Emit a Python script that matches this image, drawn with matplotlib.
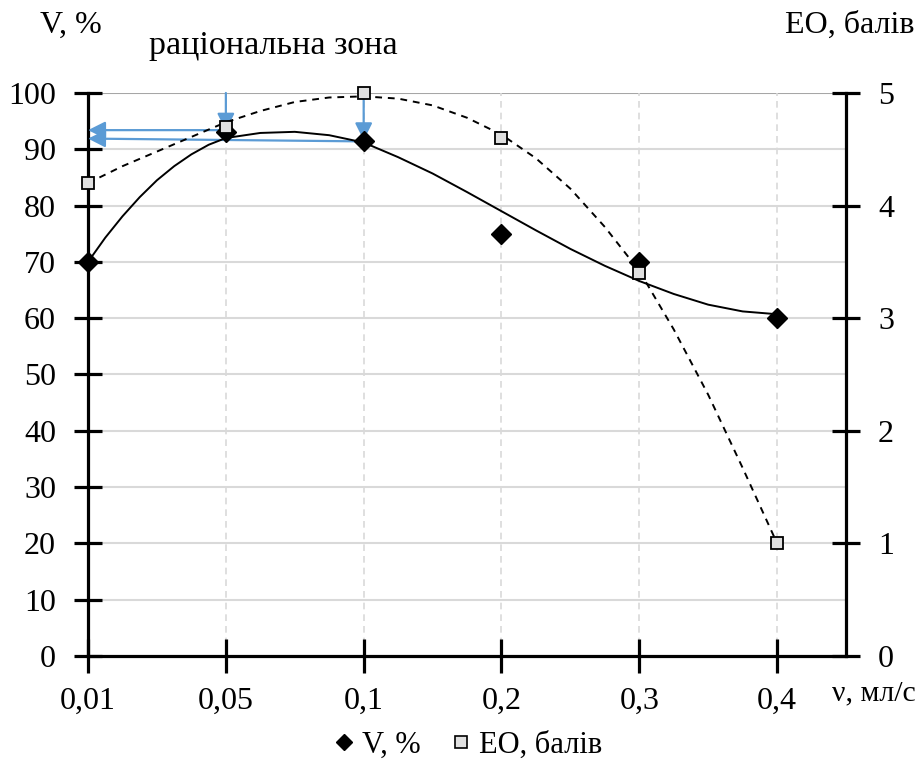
import matplotlib
matplotlib.use('Agg')
import matplotlib.pyplot as plt
from matplotlib.lines import Line2D

plt.rcParams['font.family'] = ['Liberation Serif', 'DejaVu Serif']

# categories (flow rate, ml/s)
x_labels = ['0,01', '0,05', '0,1', '0,2', '0,3', '0,4']
x_pos = [0, 1, 2, 3, 4, 5]

# measured points
v_pct = [70, 93, 91.5, 75, 70, 60]
eo_pts = [4.2, 4.7, 5.0, 4.6, 3.4, 1.0]

# trend lines
v_trend_x = [0, 0.125, 0.25, 0.375, 0.5, 0.625, 0.75, 0.875, 1.0, 1.25,
             1.5, 1.75, 2.0, 2.25, 2.5, 2.75, 3.0, 3.25, 3.5, 3.75, 4.0,
             4.25, 4.5, 4.75, 5.0]
v_trend = [70, 74.3, 78.1, 81.5, 84.5, 87.0, 89.1, 90.8, 92.0, 92.9,
           93.1, 92.5, 91.2, 88.6, 85.7, 82.4, 79.0, 75.6, 72.3, 69.3, 66.6,
           64.3, 62.4, 61.2, 60.7]
eo_trend_x = [0, 0.25, 0.5, 0.75, 1.0, 1.25, 1.5, 1.75, 2.0, 2.25, 2.5,
              2.75, 3.0, 3.25, 3.5, 3.75, 4.0, 4.25, 4.5, 4.75, 5.0]
eo_trend = [4.2, 4.35, 4.48, 4.61, 4.74, 4.84, 4.92, 4.96, 4.97, 4.95, 4.89,
            4.78, 4.63, 4.42, 4.15, 3.81, 3.42, 2.9, 2.32, 1.67, 1.0]

# "rational zone" arrows: (x_start, y_start, x_end, y_end) in left-axis units
zone_arrows = [(1, 100, 1, 93.3),
               (2, 99, 2, 91.6),
               (1, 93.4, 0, 93.4),
               (2, 91.4, 0, 91.9)]

blue = '#5b9bd5'
grid_c = '#d9d9d9'

fig = plt.figure(figsize=(9.22, 7.64), dpi=100)
ax = fig.add_axes([0.0955, 0.1414, 0.8221, 0.7369])
ax2 = ax.twinx()

ax.set_xlim(0, 5.5)
ax.set_ylim(0, 100)
ax2.set_ylim(0, 5)

ax.set_yticks(range(0, 101, 10))
ax2.set_yticks(range(0, 6))
ax.set_xticks(x_pos)
ax.set_xticklabels(x_labels)

for y in range(10, 100, 10):
    ax.axhline(y, color=grid_c, lw=1.5, zorder=0)
ax.axhline(100, color='#a6a6a6', lw=1.5, zorder=0)
for xp in x_pos[1:]:
    ax.axvline(xp, color=grid_c, lw=1.2, ls=(0, (4, 3)), zorder=0)

for a in (ax, ax2):
    a.spines['top'].set_visible(False)
    for s in ('left', 'right', 'bottom'):
        a.spines[s].set_linewidth(2.3)
    a.tick_params(direction='inout', length=20, width=2.3, labelsize=23,
                  pad=13)
ax.spines['right'].set_visible(False)
ax2.spines['left'].set_visible(False)
ax2.spines['bottom'].set_visible(False)
ax.tick_params(axis='x', length=24, pad=10)

for xs, ys, xe, ye in zone_arrows:
    ax.annotate('', xy=(xe, ye), xytext=(xs, ys),
                arrowprops=dict(arrowstyle='-|>', color=blue, lw=1.6,
                                mutation_scale=26, shrinkA=0, shrinkB=0),
                zorder=3)

ax.plot(v_trend_x, v_trend, color='black', lw=1.4, zorder=4)
ax.plot(x_pos, v_pct, ls='none', marker='D', ms=10, color='black',
        zorder=5, clip_on=False)
ax2.plot(eo_trend_x, eo_trend, color='black', lw=1.4, ls=(0, (3.5, 3)),
         zorder=4)
ax2.plot(x_pos, eo_pts, ls='none', marker='s', ms=9, mfc='#e0e0e0',
         mec='black', mew=1.3, zorder=5, clip_on=False)

fig.text(0.043, 0.967, 'V, %', fontsize=23, va='center')
fig.text(0.162, 0.940, 'раціональна зона', fontsize=24.5, va='center')
fig.text(0.851, 0.967, 'ЕО, балів', fontsize=23, va='center')
fig.text(0.993, 0.093, 'ν, мл/с', fontsize=21.5, va='center', ha='right')

handles = [Line2D([], [], ls='none', marker='D', ms=8, color='black'),
           Line2D([], [], ls='none', marker='s', ms=8, mfc='#e0e0e0',
                  mec='black', mew=1.2)]
fig.legend(handles, ['V, %', 'ЕО, балів'], loc='center',
           bbox_to_anchor=(0.505, 0.024), ncol=2, frameon=False,
           fontsize=22, handletextpad=0.1, columnspacing=0.8,
           handlelength=1.0)

fig.savefig('out.png', dpi=100)
